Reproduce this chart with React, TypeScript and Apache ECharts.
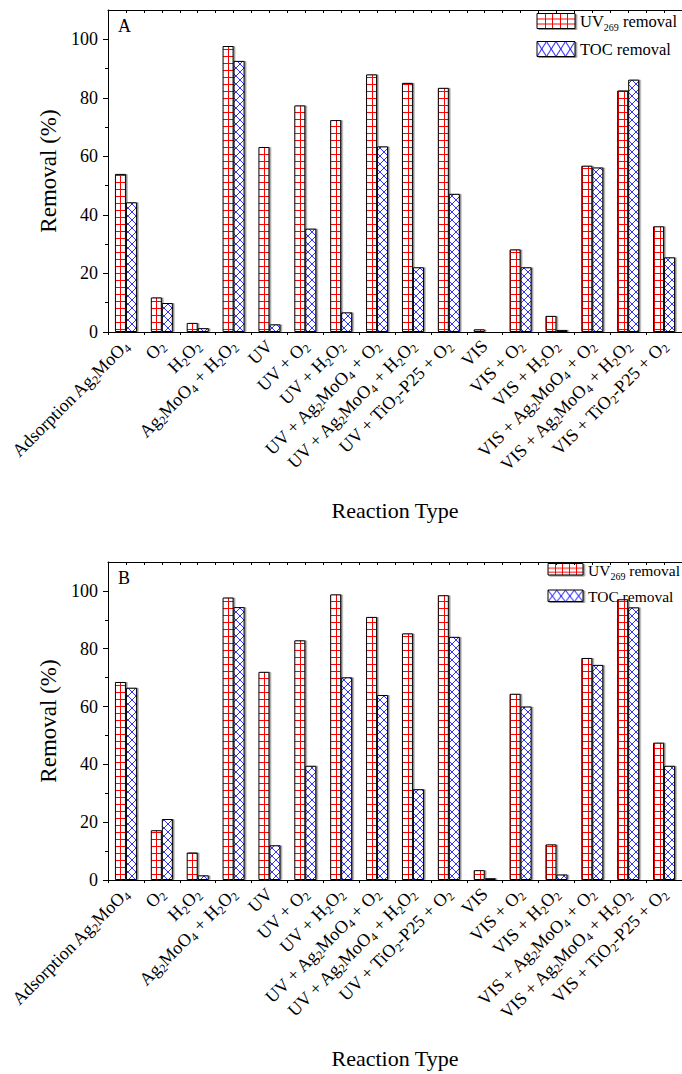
import React, { useEffect, useRef } from 'react';
import * as echarts from 'echarts';

const FONT = 'Liberation Serif, Times New Roman, serif';

// Reaction types; "_d" marks a subscript digit
const categories = [
  'Adsorption Ag_2MoO_4',
  'O_2',
  'H_2O_2',
  'Ag_2MoO_4 + H_2O_2',
  'UV',
  'UV + O_2',
  'UV + H_2O_2',
  'UV + Ag_2MoO_4 + O_2',
  'UV + Ag_2MoO_4 + H_2O_2',
  'UV + TiO_2-P25 + O_2',
  'VIS',
  'VIS + O_2',
  'VIS + H_2O_2',
  'VIS + Ag_2MoO_4 + O_2',
  'VIS + Ag_2MoO_4 + H_2O_2',
  'VIS + TiO_2-P25 + O_2',
];

// Panel A
const uvRemovalA = [54.0, 11.8, 3.1, 97.7, 63.2, 77.4, 72.4, 88.0, 85.1, 83.4, 0.9, 28.2, 5.5, 56.8, 82.5, 36.1];
const tocRemovalA = [44.3, 9.9, 1.3, 92.6, 2.6, 35.3, 6.7, 63.4, 22.1, 47.2, 0.3, 22.1, 0.7, 56.2, 86.2, 25.5];

// Panel B
const uvRemovalB = [68.5, 17.2, 9.5, 97.7, 72.0, 82.9, 98.8, 91.0, 85.3, 98.5, 3.4, 64.4, 12.3, 76.8, 97.1, 47.5];
const tocRemovalB = [66.5, 21.1, 1.6, 94.4, 12.0, 39.5, 70.1, 64.0, 31.4, 84.1, 0.6, 60.0, 1.9, 74.4, 94.3, 39.5];

const yLabelTicks = [0, 20, 40, 60, 80, 100];
const yMinorTicks = [10, 30, 50, 70, 90];

function makeCanvas(w: number, h: number) {
  const c = document.createElement('canvas');
  c.width = w;
  c.height = h;
  const g = c.getContext('2d')!;
  g.fillStyle = '#ffffff';
  g.fillRect(0, 0, w, h);
  return { c, g };
}

// red square grid fill
function gridTile() {
  const { c, g } = makeCanvas(6, 7);
  g.fillStyle = '#ff0000';
  g.fillRect(0, 0, 6, 1);
  g.fillRect(0, 0, 1, 7);
  return c;
}

// blue diagonal crosshatch fill
function crossTile() {
  const { c, g } = makeCanvas(8, 8);
  g.strokeStyle = '#1a1aff';
  g.lineWidth = 0.9;
  g.beginPath();
  g.moveTo(-1, -1);
  g.lineTo(9, 9);
  g.moveTo(9, -1);
  g.lineTo(-1, 9);
  g.stroke();
  return c;
}

function legendGrid(w: number, h: number, cols: number, rows: number) {
  const { c, g } = makeCanvas(w, h);
  g.fillStyle = '#ff0000';
  for (let i = 1; i < cols; i++) g.fillRect(Math.round((i * w) / cols), 0, 1, h);
  for (let j = 1; j < rows; j++) g.fillRect(0, Math.round((j * h) / rows), w, 1);
  return c;
}

function legendCross(w: number, h: number, n: number) {
  const { c, g } = makeCanvas(w, h);
  g.strokeStyle = '#0000ff';
  g.lineWidth = 1;
  g.beginPath();
  const cw = w / n;
  for (let i = 0; i < n; i++) {
    g.moveTo(i * cw, 0);
    g.lineTo((i + 1) * cw, h);
    g.moveTo((i + 1) * cw, 0);
    g.lineTo(i * cw, h);
  }
  g.stroke();
  return c;
}

const subLabel = (v: string) => v.replace(/_(\d)/g, '{s|$1}');

type LegendBox = {
  x: number; y1: number; y2: number; w: number; h: number;
  tx: number; t1: number; t2: number; fs: number; sfs: number;
};

function buildOption(uv: number[], toc: number[], letter: string, lg: LegendBox) {
  const barShadow = {
    borderColor: '#000',
    borderWidth: 1,
    shadowColor: 'rgba(0,0,0,0.45)',
    shadowOffsetX: 1.5,
    shadowOffsetY: 0,
    shadowBlur: 0,
  };
  const legendShadow = { shadowColor: 'rgba(0,0,0,0.45)', shadowOffsetX: 1.5, shadowOffsetY: 1, shadowBlur: 0 };
  const legendRich = {
    m: { fontFamily: FONT, fontSize: lg.fs, color: '#000' },
    s: { fontFamily: FONT, fontSize: lg.sfs, color: '#000', padding: [12, 0, 0, 0] },
  };
  return {
    animation: false,
    backgroundColor: '#ffffff',
    grid: { left: 108, right: 0, top: 10, height: 322 },
    xAxis: [
      {
        type: 'category',
        data: categories,
        position: 'bottom',
        axisLine: { onZero: false, lineStyle: { color: '#000', width: 1 } },
        axisTick: { alignWithLabel: true, length: 5, lineStyle: { color: '#000' } },
        axisLabel: {
          interval: 0,
          rotate: 45,
          margin: 11,
          fontSize: 18,
          fontFamily: FONT,
          color: '#000',
          formatter: subLabel,
          rich: { s: { fontFamily: FONT, fontSize: 12, color: '#000', padding: [10, 0, 0, 0] } },
        },
        name: 'Reaction Type',
        nameLocation: 'middle',
        nameGap: 167,
        nameTextStyle: { fontSize: 22, fontFamily: FONT, color: '#000' },
      },
      {
        type: 'value',
        position: 'bottom',
        min: 0,
        max: 16,
        interval: 1,
        axisLine: { show: false, onZero: false },
        axisTick: { show: true, length: 3, lineStyle: { color: '#000' } },
        axisLabel: { show: false },
        splitLine: { show: false },
      },
      {
        type: 'value',
        position: 'top',
        min: 0,
        max: 16,
        interval: 0.5,
        axisLine: { show: true, onZero: false, lineStyle: { color: '#000', width: 1 } },
        axisTick: { show: true, inside: true, length: 3, lineStyle: { color: '#000' } },
        axisLabel: { show: false },
        splitLine: { show: false },
      },
    ],
    yAxis: [
      {
        type: 'value',
        min: 0,
        max: 110,
        position: 'left',
        axisLine: { show: true, onZero: false, lineStyle: { color: '#000', width: 1 } },
        axisTick: { show: true, length: 5, customValues: yLabelTicks, lineStyle: { color: '#000' } },
        axisLabel: { customValues: yLabelTicks, fontSize: 18, fontFamily: FONT, color: '#000', margin: 10 },
        splitLine: { show: false },
        name: 'Removal (%)',
        nameLocation: 'middle',
        nameGap: 48,
        nameTextStyle: { fontSize: 23, fontFamily: FONT, color: '#000' },
      },
      {
        type: 'value',
        min: 0,
        max: 110,
        position: 'left',
        axisLine: { show: false, onZero: false },
        axisTick: { show: true, length: 3, customValues: yMinorTicks, lineStyle: { color: '#000' } },
        axisLabel: { show: false },
        splitLine: { show: false },
      },
    ],
    series: [
      {
        name: 'UV269 removal',
        type: 'bar',
        data: uv,
        barWidth: 11,
        barGap: '0%',
        silent: true,
        itemStyle: { color: { image: gridTile(), repeat: 'repeat', imageWidth: 6, imageHeight: 7 }, ...barShadow },
      },
      {
        name: 'TOC removal',
        type: 'bar',
        data: toc,
        barWidth: 11,
        barGap: '0%',
        silent: true,
        itemStyle: { color: { image: crossTile(), repeat: 'repeat', imageWidth: 8, imageHeight: 8 }, ...barShadow },
      },
    ],
    graphic: [
      {
        type: 'text',
        x: 118,
        y: 17,
        style: { text: letter, fontFamily: FONT, fontSize: 18, fill: '#000' },
      },
      {
        type: 'rect',
        shape: { x: lg.x, y: lg.y1, width: lg.w, height: lg.h },
        style: {
          fill: { image: legendGrid(lg.w, lg.h, 5, 3), repeat: 'no-repeat', imageWidth: lg.w, imageHeight: lg.h },
          stroke: '#000',
          lineWidth: 1,
          ...legendShadow,
        },
      },
      {
        type: 'text',
        x: lg.tx,
        y: lg.t1,
        style: {
          text: '{m|UV}{s|269}{m| removal}',
          rich: legendRich,
          verticalAlign: 'middle',
          fill: '#000',
        },
      },
      {
        type: 'rect',
        shape: { x: lg.x, y: lg.y2, width: lg.w, height: lg.h },
        style: {
          fill: { image: legendCross(lg.w, lg.h, 4), repeat: 'no-repeat', imageWidth: lg.w, imageHeight: lg.h },
          stroke: '#000',
          lineWidth: 1,
          ...legendShadow,
        },
      },
      {
        type: 'text',
        x: lg.tx,
        y: lg.t2,
        style: {
          text: 'TOC removal',
          fontFamily: FONT,
          fontSize: lg.fs,
          verticalAlign: 'middle',
          fill: '#000',
        },
      },
    ],
  };
}

function Panel(props: { uv: number[]; toc: number[]; letter: string; legend: LegendBox; top: number; height: number }) {
  const ref = useRef<HTMLDivElement>(null);
  useEffect(() => {
    if (!ref.current) return;
    const chart = echarts.init(ref.current, null, { renderer: 'svg' });
    chart.setOption(buildOption(props.uv, props.toc, props.letter, props.legend) as any);
    return () => chart.dispose();
  }, []);
  return (
    <div
      ref={ref}
      style={{ position: 'absolute', left: 0, top: props.top, width: 682, height: props.height }}
    />
  );
}

const legendA: LegendBox = { x: 537, y1: 13.5, y2: 41.5, w: 38, h: 15, tx: 580, t1: 21, t2: 49.5, fs: 16.5, sfs: 10 };
const legendB: LegendBox = { x: 548, y1: 11.5, y2: 38, w: 35, h: 11.5, tx: 588, t1: 18, t2: 44, fs: 15.5, sfs: 10 };

export default function App() {
  return (
    <div style={{ position: 'absolute', left: 0, top: 0, width: 682, height: 1074, background: '#fff' }}>
      <Panel uv={uvRemovalA} toc={tocRemovalA} letter="A" legend={legendA} top={0} height={552} />
      <Panel uv={uvRemovalB} toc={tocRemovalB} letter="B" legend={legendB} top={552} height={522} />
    </div>
  );
}
